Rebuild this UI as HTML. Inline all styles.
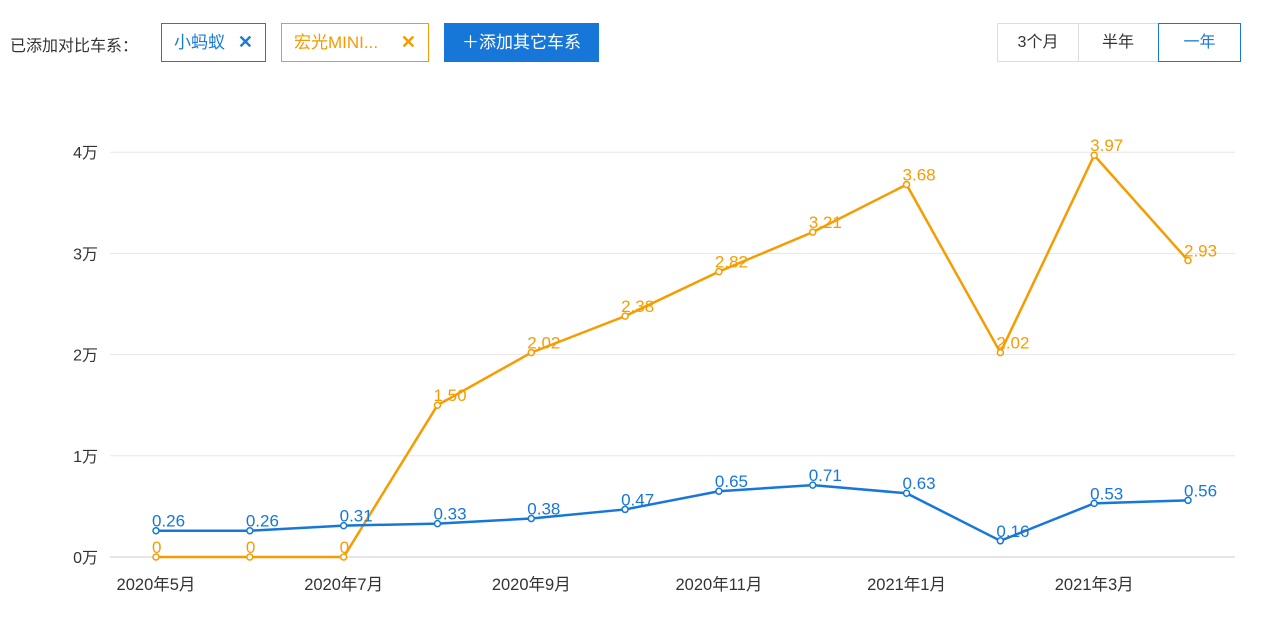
<!DOCTYPE html>
<html><head><meta charset="utf-8">
<style>
body{margin:0;width:1263px;height:632px;background:#fff;font-family:"Liberation Sans","Noto Sans CJK SC",sans-serif;position:relative;overflow:hidden}
.abs{position:absolute;box-sizing:border-box}
.lbl{left:10px;top:32px;font-size:16px;color:#333}
.tag{top:23px;height:39px;border:1px solid;font-size:17px;line-height:37px;padding-left:12px}
.tag .x{position:absolute;right:12px;top:0;font-size:18px;font-weight:bold}
.btn{top:23px;height:39px;font-size:17px;line-height:39px;text-align:center}
.seg{top:23px;height:39px;border:1px solid #ddd;font-size:16px;line-height:37px;text-align:center;color:#333}
</style></head><body>
<div class="abs lbl">已添加对比车系：</div>
<div class="abs tag" style="left:161px;width:105px;border-color:#1a7bd6;color:#1a7bd6">小蚂蚁<span class="x">✕</span></div>
<div class="abs tag" style="left:281px;width:148px;border-color:#f59a00;color:#f59a00">宏光MINI...<span class="x">✕</span></div>
<div class="abs btn" style="left:444px;width:155px;background:#1677d9;color:#fff">＋添加其它车系</div>
<div class="abs seg" style="left:997px;width:82px">3个月</div>
<div class="abs seg" style="left:1078px;width:81px;border-left:none">半年</div>
<div class="abs seg" style="left:1158px;width:83px;border-color:#1677d9;color:#1677d9">一年</div>
<svg id="chart" class="abs" style="left:0;top:0" width="1263" height="632"></svg>
<script>
const categories=["2020年5月","2020年6月","2020年7月","2020年8月","2020年9月","2020年10月","2020年11月","2020年12月","2021年1月","2021年2月","2021年3月","2021年4月"];
const seriesBlue=[0.26,0.26,0.31,0.33,0.38,0.47,0.65,0.71,0.63,0.16,0.53,0.56];
const seriesOrange=[0,0,0,1.50,2.02,2.38,2.82,3.21,3.68,2.02,3.97,2.93];
const yTicks=[0,1,2,3,4];
const svg=document.getElementById('chart');
const NS='http://www.w3.org/2000/svg';
const x=i=>156+i*(1188-156)/11;
const y=v=>557-v*101.2;
function mk(t,a,txt){const e=document.createElementNS(NS,t);for(const k in a)e.setAttribute(k,a[k]);if(txt!=null)e.textContent=txt;svg.appendChild(e);return e;}
yTicks.forEach(v=>{
 const g=mk('line',{x1:110,x2:1235,y1:y(v),y2:y(v),stroke:v===0?'#ccc':'#e6e6e6','stroke-width':1});
 
 
 const t=mk('text',{x:98,y:y(v)+6,'text-anchor':'end','font-size':16,fill:'#333'},v+'万');
 
 
});
categories.forEach((c,i)=>{
 if(i%2)return;
 const t=mk('text',{x:x(i),y:590,'text-anchor':'middle','font-size':16.5,fill:'#333'},c);
 
 
});
function series(vals,color,name,fmt){
 const p=mk('polyline',{points:vals.map((v,i)=>x(i)+','+y(v)).join(' '),fill:'none',stroke:color,'stroke-width':2.5});
 
 
 vals.forEach((v,i)=>{
  const c=mk('circle',{cx:x(i),cy:y(v),r:3,fill:'#fff',stroke:color,'stroke-width':1.5});
  
  
  const t=mk('text',{x:x(i)-4,y:y(v)-4,'font-size':17,fill:color},fmt(v));
  
  
 });
}
series(seriesOrange,'#f79c00','hongguang',v=>v===0?'0':v.toFixed(2));
series(seriesBlue,'#1677d9','xiaomayi',v=>v.toFixed(2));
</script>
</body></html>
